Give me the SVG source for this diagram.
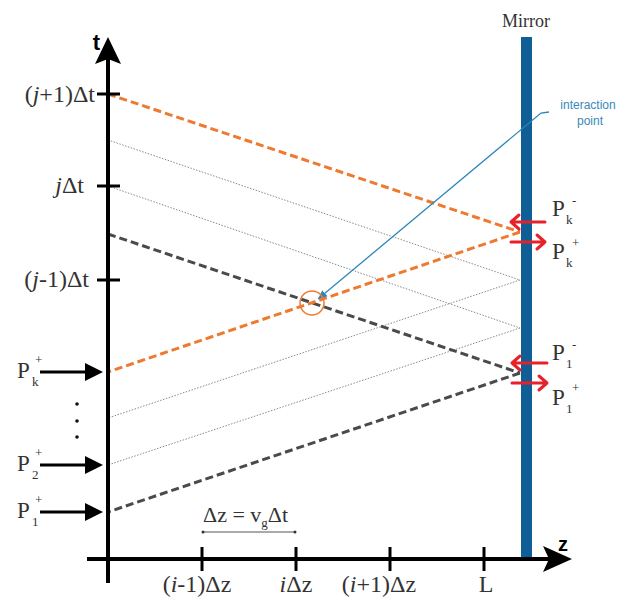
<svg xmlns="http://www.w3.org/2000/svg" width="619" height="601" viewBox="0 0 619 601">
<style>
.serif{font-family:"Liberation Serif","Times New Roman",serif;fill:#333}
.tick{font-size:24px}
.p{font-size:23px}
.s{font-size:13px}
.axis{stroke:#000;stroke-width:4;fill:none}
.tk{stroke:#000;stroke-width:3}
.org{stroke:#ee7a30;stroke-width:3;stroke-dasharray:8 4;fill:none}
.gry{stroke:#4a4a4a;stroke-width:3;stroke-dasharray:8 4;fill:none}
.dot{stroke:#8a8a8a;stroke-width:1;stroke-dasharray:1.5 1.5;fill:none}
.red{stroke:#e8202a;stroke-width:3;fill:none;stroke-linecap:round;stroke-linejoin:round}
.blk{stroke:#000;stroke-width:3;fill:none}
.ip{font-family:"Liberation Sans",Arial,sans-serif;font-size:12px;fill:#3a8ab8}
</style>
<defs>
<marker id="bh" markerWidth="10" markerHeight="10" refX="9" refY="5" orient="auto" markerUnits="userSpaceOnUse">
<path d="M0,1 L9,5 L0,9 Z" fill="#2e86b8"/>
</marker>
</defs>
<rect width="619" height="601" fill="#fff"/>

<g id="mirror">
<rect x="521" y="37" width="11" height="520" fill="#0f5e96"/>
<text class="serif" x="526" y="27" font-size="18" text-anchor="middle" fill="#111">Mirror</text>
</g>

<g id="connectors">
<line class="dot" x1="108" y1="140" x2="520" y2="280"/>
<line class="dot" x1="520" y1="280" x2="108" y2="418"/>
<line class="dot" x1="108" y1="186" x2="520" y2="328"/>
<line class="dot" x1="520" y1="328" x2="108" y2="465"/>
<line class="gry" x1="108" y1="234" x2="520" y2="373"/>
<line class="gry" x1="520" y1="373" x2="108" y2="512"/>
<line class="org" x1="108" y1="94" x2="520" y2="232"/>
<line class="org" x1="520" y1="232" x2="108" y2="372"/>
<path d="M549,112 L541,113 L318,299" stroke="#2e86b8" stroke-width="1.3" fill="none" marker-end="url(#bh)"/>
</g>

<g id="interaction-point">
<circle cx="312" cy="303" r="12" fill="none" stroke="#ee7a30" stroke-width="1.5"/>
<text class="ip" x="588" y="109" text-anchor="middle">interaction</text>
<text class="ip" x="590" y="125" text-anchor="middle">point</text>
</g>

<g id="t-axis">
<line class="axis" x1="108" y1="55" x2="108" y2="583"/>
<path d="M108,37 L121,64 L108,59 L95,64 Z" fill="#000"/>
<text x="100" y="50" font-family="Liberation Sans,Arial,sans-serif" font-weight="bold" font-size="22" text-anchor="end" fill="#000">t</text>
<line class="tk" x1="97" y1="94" x2="120" y2="94"/>
<line class="tk" x1="97" y1="186" x2="120" y2="186"/>
<line class="tk" x1="97" y1="280" x2="120" y2="280"/>
<text class="serif tick" x="95" y="102" text-anchor="end">(<tspan font-style="italic">j</tspan>+1)Δt</text>
<text class="serif tick" x="84" y="193" text-anchor="end"><tspan font-style="italic">j</tspan>Δt</text>
<text class="serif tick" x="89" y="287" text-anchor="end">(<tspan font-style="italic">j</tspan>-1)Δt</text>
</g>

<g id="z-axis">
<line class="axis" x1="87" y1="559" x2="550" y2="559"/>
<path d="M572,559 L543,572 L549,559 L543,546 Z" fill="#000"/>
<text x="563" y="551" font-family="Liberation Sans,Arial,sans-serif" font-weight="bold" font-size="20" text-anchor="middle" fill="#000">z</text>
<line class="tk" x1="202" y1="547" x2="202" y2="571"/>
<line class="tk" x1="296" y1="547" x2="296" y2="571"/>
<line class="tk" x1="390" y1="547" x2="390" y2="571"/>
<line class="tk" x1="484" y1="547" x2="484" y2="571"/>
<text class="serif tick" x="197" y="592" text-anchor="middle">(<tspan font-style="italic">i</tspan>-1)Δz</text>
<text class="serif tick" x="296" y="592" text-anchor="middle"><tspan font-style="italic">i</tspan>Δz</text>
<text class="serif tick" x="379" y="592" text-anchor="middle">(<tspan font-style="italic">i</tspan>+1)Δz</text>
<text class="serif tick" x="486" y="592" text-anchor="middle">L</text>
</g>

<g id="dz-scale">
<line x1="203" y1="532" x2="295" y2="532" stroke="#555" stroke-width="1"/>
<circle cx="203" cy="532" r="1.5" fill="#333"/>
<circle cx="295" cy="532" r="1.5" fill="#333"/>
<text class="serif" x="203" y="522" font-size="22">Δz = v<tspan font-size="13" dy="5">g</tspan><tspan dy="-5">Δt</tspan></text>
</g>

<g id="input-Pk">
<line class="blk" x1="40" y1="372" x2="88" y2="372"/>
<path d="M103,372 L85,363 L85,381 Z" fill="#000"/>
<text class="serif p" x="17" y="378">P</text>
<text class="serif s" x="32" y="386">k</text>
<text class="serif s" x="35" y="364">+</text>
</g>

<g id="dots">
<circle cx="77" cy="404" r="1.8" fill="#111"/>
<circle cx="77" cy="421" r="1.8" fill="#111"/>
<circle cx="77" cy="437" r="1.8" fill="#111"/>
</g>

<g id="input-P2">
<line class="blk" x1="40" y1="465" x2="88" y2="465"/>
<path d="M103,465 L85,456 L85,474 Z" fill="#000"/>
<text class="serif p" x="17" y="471">P</text>
<text class="serif s" x="32" y="479">2</text>
<text class="serif s" x="35" y="457">+</text>
</g>

<g id="input-P1">
<line class="blk" x1="40" y1="512" x2="88" y2="512"/>
<path d="M103,512 L85,503 L85,521 Z" fill="#000"/>
<text class="serif p" x="17" y="518">P</text>
<text class="serif s" x="32" y="526">1</text>
<text class="serif s" x="35" y="504">+</text>
</g>

<g id="Pk-minus">
<path class="red" d="M545,222 L511,222 M519,215 L511,222 L519,229"/>
<text class="serif p" x="552" y="216">P</text>
<text class="serif s" x="566" y="224">k</text>
<text class="serif s" x="572" y="205">-</text>
</g>

<g id="Pk-plus">
<path class="red" d="M511,242 L545,242 M537,235 L545,242 L537,249"/>
<text class="serif p" x="552" y="259">P</text>
<text class="serif s" x="566" y="267">k</text>
<text class="serif s" x="572" y="247">+</text>
</g>

<g id="P1-minus">
<path class="red" d="M547,363 L512,363 M520,356 L512,363 L520,370"/>
<text class="serif p" x="552" y="360">P</text>
<text class="serif s" x="566" y="368">1</text>
<text class="serif s" x="572" y="349">-</text>
</g>

<g id="P1-plus">
<path class="red" d="M512,383 L547,383 M539,376 L547,383 L539,390"/>
<text class="serif p" x="552" y="405">P</text>
<text class="serif s" x="566" y="413">1</text>
<text class="serif s" x="572" y="392">+</text>
</g>
</svg>
